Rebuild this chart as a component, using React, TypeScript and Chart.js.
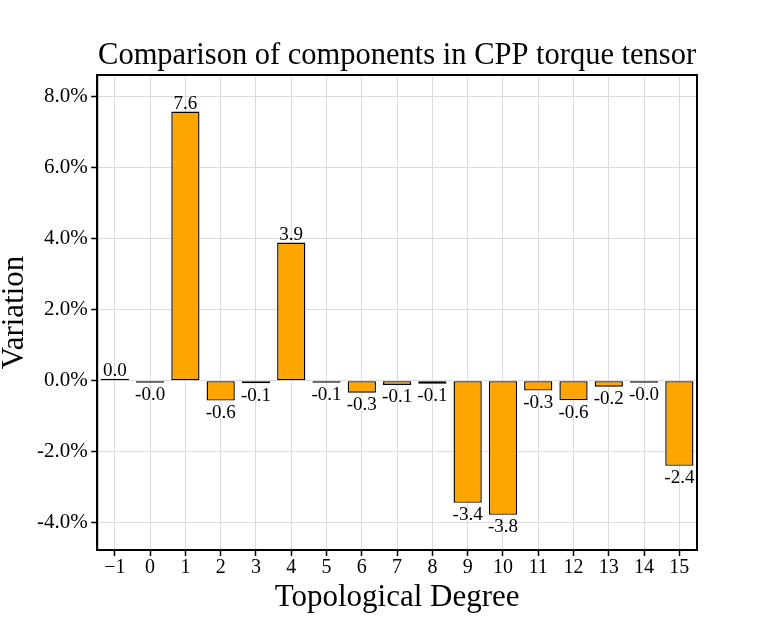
import { useEffect, useRef } from "react"
import { Chart, type ChartConfiguration, type Plugin, registerables } from "chart.js"

Chart.register(...registerables)

const categories = ["\u22121", "0", "1", "2", "3", "4", "5", "6", "7", "8", "9", "10", "11", "12", "13", "14", "15"]
const variation = [0.02, -0.02, 7.58, -0.56, -0.07, 3.89, -0.06, -0.34, -0.12, -0.09, -3.44, -3.78, -0.28, -0.55, -0.17, -0.03, -2.4]
const yTicks = [-4, -2, 0, 2, 4, 6, 8]
const titleText = "Comparison of components in CPP torque tensor"

const FONT = "'Liberation Serif', serif"

// value labels above / below each bar
const barLabels: Plugin<"bar"> = {
  id: "barLabels",
  afterDatasetsDraw(chart) {
    const ctx = chart.ctx
    const meta = chart.getDatasetMeta(0)
    const zero = chart.scales.y.getPixelForValue(0)
    ctx.save()
    ctx.font = `19px ${FONT}`
    ctx.fillStyle = "#000"
    ctx.textAlign = "center"
    meta.data.forEach((bar, i) => {
      const v = variation[i]
      const { x, y } = bar.getProps(["x", "y"], true) as { x: number; y: number }
      const text = v.toFixed(1)
      if (v >= 0) {
        ctx.textBaseline = "bottom"
        ctx.fillText(text, x, Math.min(y, zero - 1) + 2)
      } else {
        ctx.textBaseline = "top"
        ctx.fillText(text, x, Math.max(y, zero + 1) + 3)
      }
    })
    ctx.restore()
  },
}

// black frame round the plot area and the title centred over it
const frame: Plugin<"bar"> = {
  id: "frame",
  afterDraw(chart) {
    const { left, top, right, bottom } = chart.chartArea
    const ctx = chart.ctx
    ctx.save()
    ctx.strokeStyle = "#000"
    ctx.lineWidth = 2
    ctx.strokeRect(left, top, right - left, bottom - top)
    ctx.fillStyle = "#000"
    ctx.font = `30.5px ${FONT}`
    ctx.textAlign = "center"
    ctx.textBaseline = "middle"
    ctx.fillText(titleText, (left + right) / 2, top - 19)
    ctx.restore()
  },
}

export default function App() {
  const chartRef = useRef<HTMLCanvasElement>(null)
  const chartInstanceRef = useRef<Chart | null>(null)

  useEffect(() => {
    if (!chartRef.current) return
    const ctx = chartRef.current.getContext("2d")
    if (!ctx) return

    if (chartInstanceRef.current) {
      chartInstanceRef.current.destroy()
    }

    const config: ChartConfiguration<"bar"> = {
      type: "bar",
      data: {
        labels: categories,
        datasets: [
          {
            data: variation,
            backgroundColor: "#ffa500",
            borderColor: "#000",
            borderWidth: 1.4,
            borderSkipped: false,
            minBarLength: 2,
            categoryPercentage: 0.8,
            barPercentage: 1,
          },
        ],
      },
      options: {
        animation: false,
        responsive: true,
        maintainAspectRatio: false,
        layout: {
          padding: { top: 75, right: 78, bottom: 19, left: 0 },
        },
        plugins: {
          legend: { display: false },
          tooltip: { enabled: false },
          title: { display: false },
        },
        scales: {
          x: {
            offset: true,
            grid: {
              offset: false,
              color: "#dcdcdc",
              lineWidth: 1,
              tickColor: "#000",
              tickLength: 6,
              tickWidth: 1.5,
            },
            border: { color: "#000", width: 2 },
            ticks: {
              color: "#000",
              font: { family: FONT, size: 20 },
              maxRotation: 0,
              autoSkip: false,
              padding: 0,
            },
            title: {
              display: true,
              text: "Topological Degree",
              color: "#000",
              font: { family: FONT, size: 31, lineHeight: 1.0 },
              padding: { top: 2, bottom: 0 },
            },
          },
          y: {
            min: -4.77,
            max: 8.61,
            afterBuildTicks: (axis) => {
              axis.ticks = yTicks.map((value) => ({ value }))
            },
            grid: {
              color: "#dcdcdc",
              lineWidth: 1,
              tickColor: "#000",
              tickLength: 6,
              tickWidth: 1.5,
            },
            border: { color: "#000", width: 2 },
            ticks: {
              color: "#000",
              font: { family: FONT, size: 21 },
              padding: 3.5,
              callback: (value) => `${Number(value).toFixed(1)}%`,
            },
            title: {
              display: true,
              text: "Variation",
              color: "#000",
              font: { family: FONT, size: 31, lineHeight: 0.95 },
              padding: { top: 0, bottom: 4 },
            },
          },
        },
      },
      plugins: [barLabels, frame],
    }

    chartInstanceRef.current = new Chart(ctx, config)

    return () => {
      if (chartInstanceRef.current) {
        chartInstanceRef.current.destroy()
      }
    }
  }, [])

  return (
    <div style={{ position: "fixed", left: 0, top: 0, width: 775, height: 632, background: "#fff" }}>
      <canvas ref={chartRef} />
    </div>
  )
}
